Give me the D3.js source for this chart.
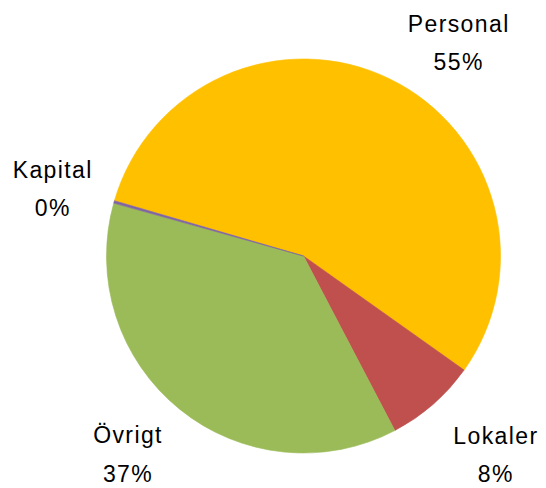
<!DOCTYPE html>
<html>
<head>
<meta charset="utf-8">
<script src="https://cdn.jsdelivr.net/npm/d3@7"></script>
<style>
  html, body { margin: 0; padding: 0; background: #fff; }
  svg { display: block; }
  text { font-family: "Liberation Sans", Arial, sans-serif; }
</style>
</head>
<body>
<svg id="chart" width="546" height="488"></svg>
<script>
// Data
const categories = ["Personal", "Lokaler", "Övrigt", "Kapital"];
const values = [55.3, 7.5, 37.0, 0.2];
const colors = ["#FFC000", "#C0504D", "#9BBB59", "#8064A2"];

// Label layout (angle nudge in degrees, distance from centre in px)
const labelAngleNudge = [10.4, -2.75, 2.3, -1.3];
const labelDistance = [262.5, 277.6, 266, 259.2];

const width = 546, height = 488;
const cx = 303.5, cy = 256, radius = 197;
const startDeg = 286.3;

const svg = d3.select("#chart");
const g = svg.append("g").attr("transform", `translate(${cx},${cy})`);

const data = categories.map((c, i) => ({ name: c, value: values[i], color: colors[i], i }));
const total = d3.sum(values);

const pie = d3.pie()
  .sort(null)
  .value(d => d.value)
  .startAngle(startDeg * Math.PI / 180)
  .endAngle((startDeg + 360) * Math.PI / 180);

const arc = d3.arc().innerRadius(0).outerRadius(radius);
const arcs = pie(data);

g.selectAll("path.slice")
  .data(arcs)
  .join("path")
  .attr("class", "slice")
  .attr("d", arc)
  .attr("fill", d => d.data.color)
  .attr("stroke", d => d.data.color)
  .attr("stroke-width", 0.6);

const fmt = v => Math.round(v / total * 100) + "%";

const labels = g.selectAll("g.label")
  .data(arcs)
  .join("g")
  .attr("class", "label")
  .attr("transform", d => {
    const mid = (d.startAngle + d.endAngle) / 2 + labelAngleNudge[d.data.i] * Math.PI / 180;
    const r = labelDistance[d.data.i];
    return `translate(${r * Math.sin(mid)},${-r * Math.cos(mid)})`;
  });

labels.append("text")
  .attr("text-anchor", "middle")
  .attr("y", -12.5)
  .attr("font-size", 23)
  .attr("letter-spacing", 1.4)
  .attr("fill", "#000")
  .text(d => d.data.name);

labels.append("text")
  .attr("text-anchor", "middle")
  .attr("y", 26)
  .attr("font-size", 23)
  .attr("letter-spacing", 1.4)
  .attr("fill", "#000")
  .text(d => fmt(d.data.value));
</script>
</body>
</html>
